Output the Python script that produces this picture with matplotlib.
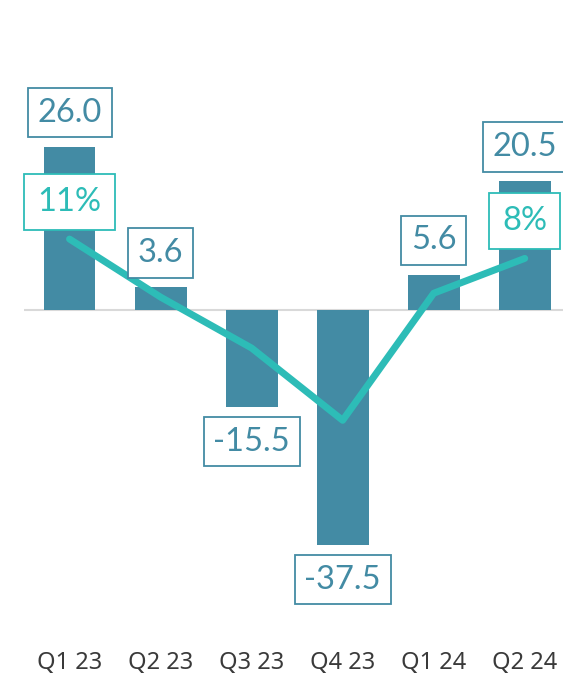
import matplotlib.pyplot as plt

quarters = ['Q1 23', 'Q2 23', 'Q3 23', 'Q4 23', 'Q1 24', 'Q2 24']
values = [26.0, 3.6, -15.5, -37.5, 5.6, 20.5]
margin_pct = [11, 2.0, -5.9, -17.1, 2.6, 8]
pct_labels = {0: '11%', 5: '8%'}

bar_color = '#438ba4'
line_color = '#2dbcb7'

plt.rcParams['font.family'] = ['Lato', 'DejaVu Sans']

fig = plt.figure(figsize=(5.63, 6.82), dpi=100)
ax = fig.add_axes([24 / 563, 62 / 682, 539 / 563, 580 / 682])
x = list(range(len(quarters)))

ax.bar(x, values, width=0.57, color=bar_color, zorder=2)
ax.axhline(0, color='#d9d9d9', lw=1.5, zorder=1)
ax.set_xlim(-0.5, 5.42)
ax.set_ylim(-49.44, 43.06)
ax.set_yticks([])
ax.set_xticks(x)
ax.set_xticklabels(quarters, fontsize=17, color='#3a3a3a', family=['Noto Sans', 'DejaVu Sans'])
ax.tick_params(axis='x', length=0, pad=22)
for s in ax.spines.values():
    s.set_visible(False)

# margin line on its own scale
ax2 = ax.twinx()
ax2.plot(x, margin_pct, color=line_color, lw=5, solid_capstyle='round',
         solid_joinstyle='round', zorder=3)
ax2.set_ylim(-48.06, 41.86)
ax2.set_yticks([])
for s in ax2.spines.values():
    s.set_visible(False)

# value boxes
for i, v in enumerate(values):
    off = 14 if v >= 0 else -14
    ax2.annotate(f'{v:.1f}', xy=(i, v), xycoords=ax.transData,
                 xytext=(0, off), textcoords='offset points',
                 ha='center', va='bottom' if v >= 0 else 'top',
                 fontsize=23.5, color=bar_color, zorder=5, annotation_clip=False,
                 bbox=dict(boxstyle='square,pad=0.3', fc='white', ec=bar_color, lw=1.3))

for i, lab in pct_labels.items():
    ax2.annotate(lab, xy=(i, margin_pct[i]), xytext=(0, 16),
                 textcoords='offset points', ha='center', va='bottom',
                 fontsize=23.5, color=line_color, zorder=6,
                 bbox=dict(boxstyle='square,pad=0.4', fc='white', ec=line_color, lw=1.3))

fig.savefig('out.png', dpi=100)
